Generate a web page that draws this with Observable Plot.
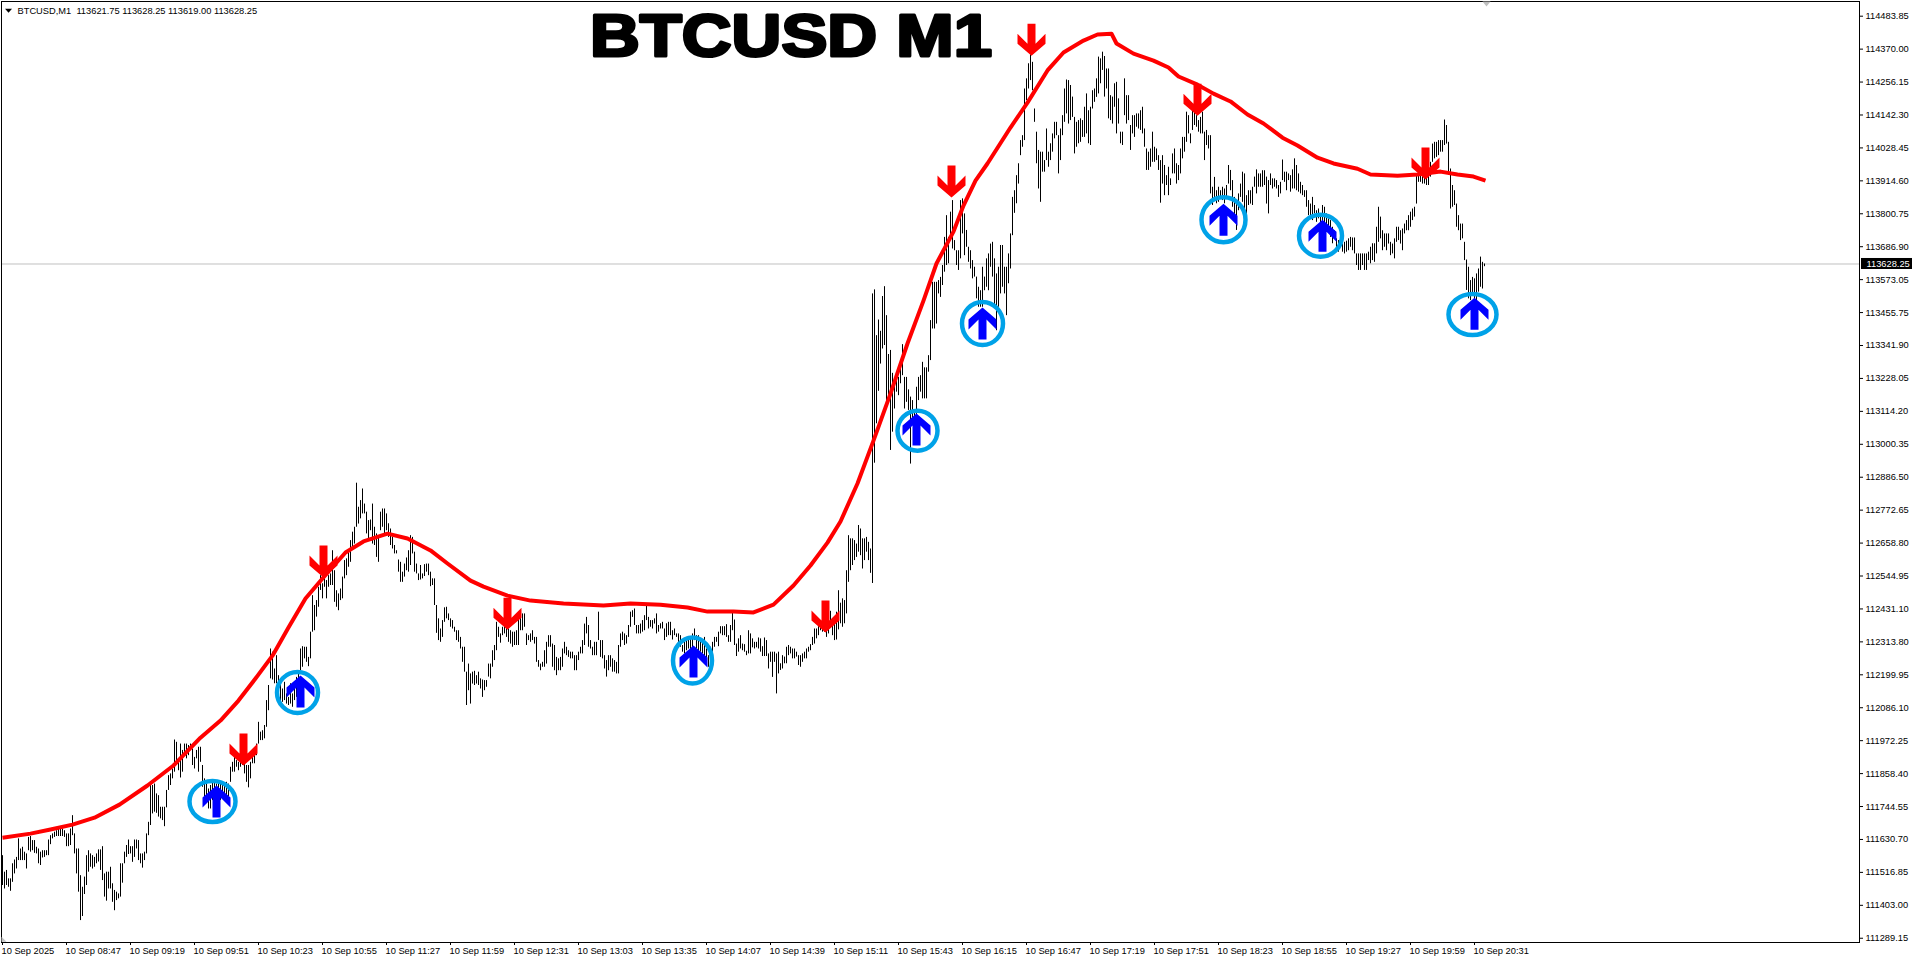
<!DOCTYPE html>
<html><head><meta charset="utf-8">
<style>html,body{margin:0;padding:0;background:#fff}svg{display:block}</style>
<script src="https://cdn.jsdelivr.net/npm/d3@7"></script>
<script src="https://cdn.jsdelivr.net/npm/@observablehq/plot@0.6"></script>
</head><body><div id="chart"></div>
<script>
// Prices below are stored as offsets from priceBase (dollars); minutes count from the first bar (08:15).
const priceBase = 111000;
const firstBar = Date.UTC(2025, 8, 10, 8, 15);
const titleText = "BTCUSD M1";
const legendText = "BTCUSD,M1\u00a0\u00a0113621.75 113628.25 113619.00 113628.25";
const lastPrice = 113628.25;
const priceTicks = [114483.85,114370.00,114256.15,114142.30,114028.45,113914.60,113800.75,113686.90,113573.05,113455.75,113341.90,113228.05,113114.20,113000.35,112886.50,112772.65,112658.80,112544.95,112431.10,112313.80,112199.95,112086.10,111972.25,111858.40,111744.55,111630.70,111516.85,111403.00,111289.15];
const timeTickLabels = ["10 Sep 2025","10 Sep 08:47","10 Sep 09:19","10 Sep 09:51","10 Sep 10:23","10 Sep 10:55","10 Sep 11:27","10 Sep 11:59","10 Sep 12:31","10 Sep 13:03","10 Sep 13:35","10 Sep 14:07","10 Sep 14:39","10 Sep 15:11","10 Sep 15:43","10 Sep 16:15","10 Sep 16:47","10 Sep 17:19","10 Sep 17:51","10 Sep 18:23","10 Sep 18:55","10 Sep 19:27","10 Sep 19:59","10 Sep 20:31"];
const timeTickMinutes = [0,32,64,96,128,160,192,224,256,288,320,352,384,416,448,480,512,544,576,608,640,672,704,736];

// high,low pairs, one pair per one-minute bar
const barsFrom0 = [587,484,530,472,536,484,507,478,507,464,559,495,572,524,581,541,645,570,610,570,616,570,599,570,593,541,650,604,653,599,639,604,639,595,616,593,610,559,599,553,604,579,604,581,604,587,641,587,656,625,662,645,668,650,673,653,679,653,679,653,679,653,673,650,662,618,662,618,679,622,725,656,662,593,610,524,610,461,518,363,478,377,513,453,587,484,604,530,593,547,587,541,581,547,593,559,607,565,607,536,618,501,524,444,530,430,530,472,547,472,490,426,467,397,461,432,455,438,559,444,559,492,599,559,622,581,641,591,618,593,618,564,641,581,641,610,639,570,593,559,593,544,599,570,662,593,702,656,834,691,829,731,834,737,800,733,794,720,754,714,754,708,754,687,812,752,863,812,869,829,886,852,986,875,978,898,915,880,972,855,950,875,972,932,972,921,967,932,972,950,955,898,926,886,950,921,961,875,961,909,898,823,852,766,846,789,817,748,829,748,846,777,840,754,834,777,846,789,840,777,840,789,834,777,840,794,834,789,892,840,909,875,926,875,915,892,909,880,915,892,915,898,909,869,898,840,898,821,909,852,932,904,932,904,972,932,1047,972,1013,984,1018,984,1036,990,1122,1030];
const barsFrom133 = [1174,1087,1300,1197,1289,1193,1231,1180,1277,1180,1208,1156,1180,1110,1162,1116,1185,1122,1145,1110,1133,1105,1180,1110,1145,1099,1180,1122,1202,1133,1214,1168,1300,1225,1308,1237,1306,1266,1306,1254,1271,1239,1358,1266,1484,1358,1450,1363,1467,1410,1513,1444,1553,1502,1525,1473,1548,1513,1536,1473,1553,1513,1559,1519,1639,1519,1570,1461,1501,1444,1490,1432,1507,1467,1548,1473,1605,1542];
const barsFrom172 = [1611,1553,1639,1582,1674,1599,1703,1651,1720,1662,1872,1720,1789,1731,1812,1749,1852,1766,1800,1766,1772,1697,1743,1680,1745,1708,1800,1662,1720,1657,1697,1616,1691,1599,1772,1708,1783,1720,1783,1697,1766,1708,1732,1685,1714,1657,1686,1645,1657,1628,1639,1628,1607,1565,1599,1530,1565,1530,1593,1548,1614,1570,1639,1565,1691,1588,1685,1628,1634,1565,1593,1559,1559,1536,1588,1538,1559,1542,1591,1550,1593,1565,1593,1553,1565,1515,1542,1519,1542,1450,1450,1354,1404,1329,1369,1323,1398,1340,1442,1392,1444,1404,1421,1398,1404,1375,1398,1369,1375,1358,1363,1329,1363,1323,1340,1300,1306,1254,1306,1220,1220,1105,1248,1156,1214,1110,1220,1179,1223,1174,1208,1179,1220,1174,1197,1162,1193,1133,1191,1156,1191,1168,1248,1203,1248,1197,1294,1237,1312,1260,1392,1294,1375,1340,1352,1320,1375,1346,1392,1352,1375,1340,1369,1323,1363,1317,1358,1306,1358,1312,1363,1312,1409,1312,1427,1363,1421,1363,1421,1375,1352,1312,1346,1329,1352,1323,1363,1329,1340,1317,1340,1254,1260,1237,1248,1225,1254,1237,1294,1237,1323,1248,1346,1306,1346,1306,1317,1237,1312,1225,1271,1208,1266,1225,1271,1225,1300,1237,1323,1283,1306,1277,1294,1271,1289,1266,1289,1266,1277,1225,1277,1225,1289,1260,1306,1283,1329,1283,1386,1312,1409,1352,1381,1306,1329,1300,1306,1277,1323,1277,1323,1277,1427,1329,1329,1271,1329,1266,1277,1231,1260,1203,1277,1225,1277,1237,1266,1220,1260,1220,1254,1214,1312,1214,1352,1306,1358,1329,1352,1312,1346,1317,1381,1340,1427,1375,1432,1409,1438,1381,1381,1352,1381,1352,1386,1352,1398,1358,1415,1363,1450,1398,1409,1369,1398,1375,1398,1369,1404,1386,1421,1352,1381,1358];
const barsFrom329 = [1387,1369,1392,1369,1369,1329,1387,1340,1392,1346,1392,1346,1363,1331,1369,1346,1352,1340,1352,1317,1346,1306,1312,1289,1329,1283,1340,1294,1335,1300,1340,1289,1352,1300,1369,1329,1346,1300,1346,1294,1335,1289,1329,1283,1340,1272,1300,1254,1277,1237,1306,1260,1323,1289,1340,1306,1340,1323,1358,1308,1377,1352,1377,1346,1377,1346,1384,1340,1346,1323,1381,1323,1427,1363,1400,1312,1317,1274,1335,1289,1346,1300,1317,1294,1315,1289,1292,1277,1363,1283,1352,1283,1335,1304,1323,1300,1323,1304,1338,1300,1335,1289,1308,1274,1338,1274,1329,1274,1283,1231,1289,1254,1289,1202,1289,1254,1283,1145,1289,1214,1249,1226,1277,1231,1272,1249,1306,1249,1312,1277,1306,1283,1300,1266,1300,1266,1289,1272,1277,1243,1277,1237,1283,1254,1289,1266,1300,1266,1306,1289,1315,1294,1340,1312,1369,1317,1369,1335,1377,1346,1398,1363,1375,1358,1387,1358,1363,1340,1387,1352,1430,1387,1398,1346,1387,1329,1427,1331,1501,1366,1458,1387,1473,1375,1467,1387,1570,1421,1691,1530,1680,1570,1680,1588,1674,1605,1662,1616,1726,1634,1714,1622,1680,1576,1680,1605,1685,1634,1668,1605,1645,1561];
const barsFrom435 = [2525,1526,2539,1941,2381,2077,2435,2189,2396,2283,2516,2335,2550,2347,2450,2155,2316,2155,2330,1985,2251,2048,2226,2128,2249,2186,2237,2174,2274,2215,2350,2243,2237,2128,2237,2151,2194,2123,2169,1938,2157,2088,2123,2088,2203,2100,2237,2157,2243,2186,2289,2163,2270,2163,2270,2163,2312,2255,2433,2295,2565,2404,2565,2404,2565,2421,2571,2525,2582,2513,2623,2554];
const barsFrom471 = [2720,2600,2795,2623,2720,2629,2807,2720,2847,2680,2709,2674,2674,2623,2674,2606,2847,2646,2853,2732,2801,2657,2744,2686,2686,2634,2674,2611,2640,2577,2617,2583,2583,2508,2548,2479,2536,2479,2617,2479,2583,2536,2646,2548,2663,2536,2697,2617,2703,2583,2646,2479,2594,2398,2617,2479,2692,2525,2692,2548,2617,2525,2617,2450,2663,2560,2732,2611,2858,2726,2881,2803,2933,2836,2974,2904,3054,3002,3071,3031,3232,3054,3267,3192,3319,3232,3350,3261,3324,3226,3163,3117,3083,2974,3020,2887,3014,2841,3014,2945,2985,2945,3094,2985,3014,2962,3043,2985,3077,3014,3117,3060,3117,3071,3071,2939,3094,2985,3140,3071,3232,3117,3263,3146,3261,3111,3244,3123,3204,3134,3134,3008,3117,3031,3123,3043,3129,3048,3123,3065,3169,3065,3215,3077,3157,3043,3169,3037,3226,3163,3232,3186,3267,3203,3342,3215,3336,3250,3359,3296,3344,3204,3301,3232,3301,3129,3209,3123,3204,3111,3250,3169,3255,3077,3198,3111,3083,3043,3083,3037,3267,3140,3209,3111,3209,3123,3106,3020,3140,3077,3140,3065,3146,3100,3146,3094,3157,3089,3169,3077,3094,3031,3025,2951,3014,2951,3025,2962,3083,2979,3031,2979,3025,2985,3002,2951,2985,2838,3002,2904,2968,2864,2933,2899,2962,2864,2922,2899,3008,2939,3025,2939,2974,2904,2968,2916,3025,2939,3065,2991,3065,3014,3152,3048,3140,3077,3077,3043,3157,3089,3157,3106,3140,3100,3123,3083,3134,3077,3152,3077,3083,2985,3089,3037,3071,3025,3071,2870,2893,2830,2927,2847,2881,2836,2893,2841,2881,2853,2893,2847,2887,2836,2899,2858,2968,2904,2951,2881,2916,2824,2858,2795,2835,2744,2870,2812,2904,2858,2945,2841,2939,2801,2864,2778,2881,2830];
const barsFrom624 = [2881,2835,2893,2830,2928,2893,2953,2870,2939,2893,2939,2893,2950,2893,2950,2899,2928,2835,2916,2801,2939,2899,2922,2887,2922,2893,2916,2887,2899,2858,2910,2870,2987,2916,2945,2910,2945,2881,2939,2916,2933,2876,2953,2887,2991,2887,2968,2881,2939,2876,2910,2870,2899,2864,2881,2858,2881,2824,2847,2795,2835,2795,2858,2778,2830,2801,2812,2772,2818,2784,2795,2755,2830,2772,2824,2766,2801,2755,2784,2743,2778,2720,2755,2698,2743,2715,2715,2680,2709,2669,2715,2686,2697,2669,2703,2663,2707,2669,2715,2674,2720,2686,2718,2674,2718,2663,2663,2623,2663,2606,2663,2606,2663,2623,2663,2606,2663,2606,2669,2640,2686,2629,2698,2640,2698,2634,2755,2663,2824,2703,2790,2715,2743,2674,2732,2686,2732,2674,2732,2697,2703,2657,2697,2663,2715,2646,2755,2703,2755,2709,2743,2697,2749,2674,2766,2732,2778,2743,2795,2743,2807,2755,2818,2778,2824,2790,2939,2835,2950,2910,2945,2910,2939,2904,2933,2904,2939,2899,2950,2899,2979,2928,3042,2979,3048,2991,3048,2996,3054,3002,3054,3014,3054,3014,3125,3037,3106,3042,3048,2945,2956,2818,2899,2824,2881,2830,2835,2755,2795,2743,2766,2709,2766,2715,2703,2640,2642,2537,2617,2508,2571,2502,2582,2525,2577,2502,2594,2502,2611,2531,2652,2548,2634,2542,2628.25,2619];

const maMinutes = [0,14,24,35,46,58.5,72.5,85.5,99,109,118,126.5,135,143,151.5,160,171.5,180.5,192.5,202.5,214,222.5,234,240.5,252.5,264,280.5,300.5,314,329,342.5,352.5,365.5,375.5,385.5,395.5,404,412.5,419,427.5,435.5,444,452.5,460.5,467,475.5,480.5,486.5,492.5,504,512.5,522.5,530.5,540.5,547.5,554.5,557,565.5,575.5,583,588,597.5,605.5,614,622.5,630.5,640,647.5,657.5,665.5,677.5,684,697.5,707.5,719,727.5,735.5,741.5];
const maPrices = [649,663,677,694,718,763,829,898,994,1053,1122,1198,1277,1374,1474,1543,1633,1671,1698,1681,1640,1595,1536,1515,1484,1467,1457,1450,1457,1453,1443,1429,1429,1426,1453,1519,1588,1667,1740,1871,2019,2181,2354,2502,2630,2740,2830,2916,2975,3099,3185,3296,3358,3399,3420,3423,3389,3354,3330,3306,3275,3247,3216,3189,3144,3113,3064,3037,2995,2975,2957,2937,2933,2937,2947,2937,2930,2916];

const buyMinutes = [107,149,345.5,457,490,610.5,660,736];
const buyPrices = [774,1153,1257,2057,2423,2781,2726,2457];
const ringMinutes = [105,147.5,345,457.5,490,610.5,659,735];
const ringPrices = [774,1150,1260,2053,2423,2781,2726,2454];
const sellMinutes = [120.5,160.5,252.5,411.5,474.5,514.5,597.5,711.5];
const sellPrices = [953,1602,1422,1412,2913,3402,3195,2975];
// the terminal spaces its price labels evenly, so the ticks sit at these prices and carry the labels above
const tickPlaces = priceTicks.map((_, k) => priceTicks[0] - 0.7 - 113.61 * k);

const at = m => new Date(firstBar + m * 60000);
const barSegments = [[0,barsFrom0],[133,barsFrom133],[172,barsFrom172],[329,barsFrom329],[435,barsFrom435],[471,barsFrom471],[624,barsFrom624]];
const bars = barSegments.flatMap(([start, vals]) => d3.range(0, vals.length, 2).map(k => ({t: at(start + k / 2), high: priceBase + vals[k], low: priceBase + vals[k + 1]})));
const ma = maMinutes.map((m, k) => ({t: at(m), p: priceBase + maPrices[k]}));
const buys = buyMinutes.map((m, k) => ({t: at(m), p: priceBase + buyPrices[k]}));
const sells = sellMinutes.map((m, k) => ({t: at(m), p: priceBase + sellPrices[k]}));

const polygon = pts => ({draw(c) { pts.forEach(([x, y], i) => i ? c.lineTo(x, y) : c.moveTo(x, y)); c.closePath(); }});
const upArrow = polygon([[0,-16],[14,-4],[14,6],[4,-4],[4,16],[-4,16],[-4,-4],[-14,6],[-14,-4]]);
const downArrow = polygon([[0,16],[14,4],[14,-6],[4,4],[4,-16],[-4,-16],[-4,4],[-14,-6],[-14,4]]);
const ellipse = (rx, ry) => ({draw(c) {
  const k = 0.5523;
  c.moveTo(rx, 0);
  c.bezierCurveTo(rx, ry * k, rx * k, ry, 0, ry);
  c.bezierCurveTo(-rx * k, ry, -rx, ry * k, -rx, 0);
  c.bezierCurveTo(-rx, -ry * k, -rx * k, -ry, 0, -ry);
  c.bezierCurveTo(rx * k, -ry, rx, -ry * k, rx, 0);
  c.closePath();
}});
const ringShapes = [[23,20.5],[20.5,20.5],[19.5,23],[20,20],[20.5,21.5],[22,22.5],[21.5,21],[24,20.5]];
const font = "'Liberation Sans', Arial, sans-serif";

const chart = Plot.plot({
  width: 1916, height: 962,
  marginLeft: 1, marginRight: 57, marginTop: 1, marginBottom: 20,
  style: {background: "#fff", fontFamily: font, fontSize: "9.3px", color: "#000"},
  x: {type: "utc", domain: [at(-0.5), at(928.5)]},
  y: {domain: [111287.4, 114533.85]},
  marks: [
    Plot.ruleY([lastPrice], {stroke: "#c0c0c0"}),
    Plot.ruleX(bars, {x: "t", y1: "low", y2: "high", stroke: "#000", strokeWidth: 1}),
    Plot.line(ma, {x: "t", y: "p", stroke: "#ff0000", strokeWidth: 4, strokeLinejoin: "round", strokeLinecap: "butt"}),
    ...ringMinutes.map((m, k) => Plot.dot([k], {x: () => at(m), y: () => priceBase + ringPrices[k], symbol: ellipse(...ringShapes[k]), fill: "none", stroke: "#00a2e8", strokeWidth: 4.5})),
    Plot.dot(buys, {x: "t", y: "p", symbol: upArrow, fill: "#0000ff", stroke: "none"}),
    Plot.dot(sells, {x: "t", y: "p", symbol: downArrow, fill: "#ff0000", stroke: "none"}),
    Plot.frame({stroke: "#000"}),
    Plot.axisY(tickPlaces, {anchor: "right", tickFormat: (d, i) => priceTicks[i].toFixed(2), tickSize: 3, tickPadding: 3, label: null, fontSize: 9.3, stroke: "#000"}),
    Plot.axisX(timeTickMinutes.map(at), {anchor: "bottom", tickFormat: (d, i) => timeTickLabels[i], tickSize: 3, tickPadding: 2, label: null, textAnchor: "start", fontSize: 9.3, stroke: "#000"}),
    Plot.text([titleText], {x: () => at(394.25), y: () => priceBase + 3413, text: d => d, fontFamily: font, fontWeight: "bold", fontSize: 60, lineAnchor: "middle", textAnchor: "middle", fill: "#000", stroke: "#000", strokeWidth: 3, className: "chart-title"}),
    Plot.text([legendText], {x: () => at(7.5), y: () => priceBase + 3502, text: d => d, textAnchor: "start", lineAnchor: "middle", fontSize: 9.3, fill: "#000"}),
    Plot.dot([0], {x: () => at(3), y: () => priceBase + 3502, symbol: polygon([[-3.5,-2],[3.5,-2],[0,2]]), fill: "#000", stroke: "none"}),
    Plot.dot([0], {x: () => at(742), y: () => priceBase + 3527, symbol: polygon([[-4,-2],[4,-2],[0,3]]), fill: "#c0c0c0", stroke: "none"}),
    Plot.dot([0], {x: () => at(0), y: () => 111290, symbol: polygon([[-1,-5],[4,0],[-1,0]]), fill: "#c0c0c0", stroke: "none"}),
    Plot.rect([lastPrice], {x1: () => at(929.5), x2: () => at(955), y1: d => d - 19, y2: d => d + 19, fill: "#000"}),
    Plot.text([lastPrice], {x: () => at(932), y: d => d, text: d => d.toFixed(2), textAnchor: "start", lineAnchor: "middle", fontSize: 9.3, fill: "#fff"})
  ]
});
document.getElementById("chart").append(chart);
// the reference's title is set in a wide black face: stretch the heavy bold to the same span
d3.select(chart).selectAll("text").filter(function () { return this.textContent === titleText; })
  .attr("textLength", 402).attr("lengthAdjust", "spacingAndGlyphs");
d3.select(chart).selectAll('[aria-label="x-axis tick label"] text').attr("dx", -1);
</script>
</body></html>
